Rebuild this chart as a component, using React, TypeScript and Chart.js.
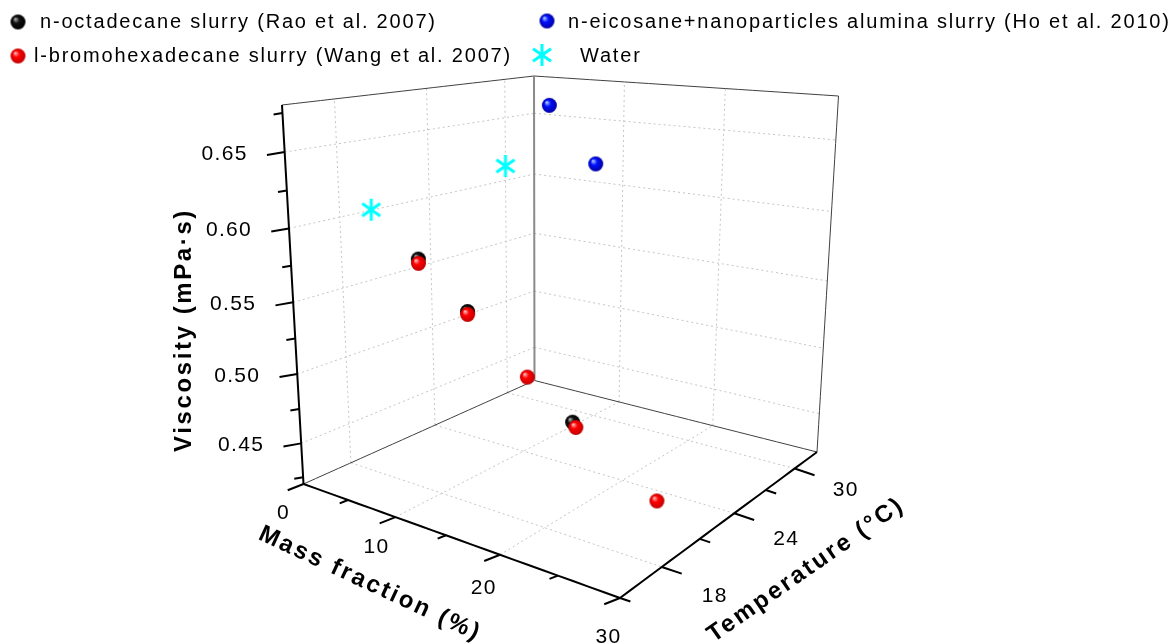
import React, { useEffect, useRef } from "react";
import { Chart, registerables } from "chart.js";

Chart.register(...registerables);

// ---------- data ----------
const massRange = [0, 30];
const tempRange = [15, 32.5];
const viscRange = [0.42, 0.68];

const massTicks = [0, 10, 20, 30];
const massMinorTicks = [5, 15, 25];
const tempTicks = [18, 24, 30];
const tempMinorTicks = [15, 21, 27];
const viscTicks = [0.45, 0.5, 0.55, 0.6, 0.65];
const viscMinorTicks = [0.425, 0.475, 0.525, 0.575, 0.625, 0.675];

const octaMass = [5.0, 10.0, 20.0];
const octaTemp = [20, 20, 20];
const octaVisc = [0.571, 0.541, 0.482];

const bromoMass = [5.0, 10.0, 15.8, 20.3, 27.4];
const bromoTemp = [20, 20, 20, 20, 20];
const bromoVisc = [0.568, 0.539, 0.505, 0.479, 0.445];

const eicoMass = [5, 10];
const eicoTemp = [30, 30];
const eicoVisc = [0.6626, 0.6216];

const waterMass = [0, 0];
const waterTemp = [20, 30];
const waterVisc = [0.6003, 0.6116];

const legendLabels = [
  "n-octadecane slurry (Rao et al. 2007)",
  "l-bromohexadecane slurry (Wang et al. 2007)",
  "n-eicosane+nanoparticles alumina slurry (Ho et al. 2010)",
  "Water",
];

// ---------- layout ----------
const W = 1176;
const H = 644;
const FONT = '"Liberation Sans", Arial, Helvetica, sans-serif';

// camera: screen position of the box corners (normalised u=mass, v=temp, w=visc)
const CAMERA_CORNERS: number[][] = [
  [0, 0, 0, 303.5, 484],
  [1, 0, 0, 620, 598],
  [1, 1, 0, 817, 452],
  [0, 1, 0, 534.5, 380.5],
  [0, 0, 1, 282, 105],
  [0, 1, 1, 534, 76],
  [1, 1, 1, 838.5, 96],
];

const NCX = 560, NCY = 340, NS = 300;

function solveLinear(M: number[][]): number[] {
  const n = M.length;
  for (let i = 0; i < n; i++) {
    let p = i;
    for (let r = i + 1; r < n; r++) if (Math.abs(M[r][i]) > Math.abs(M[p][i])) p = r;
    const tmp = M[i]; M[i] = M[p]; M[p] = tmp;
    for (let r = 0; r < n; r++) {
      if (r === i) continue;
      const f = M[r][i] / M[i][i];
      for (let c = i; c <= n; c++) M[r][c] -= f * M[i][c];
    }
  }
  return M.map((row, i) => row[n] / row[i]);
}

function buildCamera(): number[] {
  const n = 11;
  const M = Array.from({ length: n }, () => new Array(n + 1).fill(0));
  const addRow = (a: number[], b: number) => {
    for (let i = 0; i < n; i++) {
      for (let j = 0; j < n; j++) M[i][j] += a[i] * a[j];
      M[i][n] += a[i] * b;
    }
  };
  for (const [X, Y, Z, sx, sy] of CAMERA_CORNERS) {
    const x = (sx - NCX) / NS;
    const y = (sy - NCY) / NS;
    addRow([X, Y, Z, 1, 0, 0, 0, 0, -x * X, -x * Y, -x * Z], x);
    addRow([0, 0, 0, 0, X, Y, Z, 1, -y * X, -y * Y, -y * Z], y);
  }
  return solveLinear(M);
}

const CAM = buildCamera();

function pinhole(u: number, v: number, w: number): [number, number] {
  const P = CAM;
  const d = P[8] * u + P[9] * v + P[10] * w + 1;
  const x = (P[0] * u + P[1] * v + P[2] * w + P[3]) / d;
  const y = (P[4] * u + P[5] * v + P[6] * w + P[7]) / d;
  return [x * NS + NCX, y * NS + NCY];
}

// residual correction so the frame passes exactly through the corners
const RES: Record<string, [number, number]> = {};
for (const [X, Y, Z, sx, sy] of CAMERA_CORNERS) {
  const p = pinhole(X, Y, Z);
  RES[`${X}${Y}${Z}`] = [sx - p[0], sy - p[1]];
}
RES["101"] = [
  RES["100"][0] + RES["001"][0] - RES["000"][0],
  RES["100"][1] + RES["001"][1] - RES["000"][1],
];

function projN(u: number, v: number, w: number): [number, number] {
  const p = pinhole(u, v, w);
  let dx = 0, dy = 0;
  for (const a of [0, 1]) for (const b of [0, 1]) for (const c of [0, 1]) {
    const k = (a ? u : 1 - u) * (b ? v : 1 - v) * (c ? w : 1 - w);
    const r = RES[`${a}${b}${c}`];
    dx += k * r[0];
    dy += k * r[1];
  }
  return [p[0] + dx, p[1] + dy];
}

const nm = (m: number) => (m - massRange[0]) / (massRange[1] - massRange[0]);
const nt = (t: number) => (t - tempRange[0]) / (tempRange[1] - tempRange[0]);
const nv = (v: number) => (v - viscRange[0]) / (viscRange[1] - viscRange[0]);

function proj(m: number, t: number, v: number): [number, number] {
  return projN(nm(m), nt(t), nv(v));
}

function series(ms: number[], ts: number[], vs: number[]) {
  return ms.map((m, i) => {
    const [x, y] = proj(m, ts[i], vs[i]);
    return { x, y };
  });
}

// ---------- marker images ----------
function makeSphere(r: number, light: string, base: string, dark: string) {
  const c = document.createElement("canvas");
  const s = Math.ceil(r * 2 + 2);
  c.width = s; c.height = s;
  const g = c.getContext("2d")!;
  const cx = s / 2, cy = s / 2;
  const grad = g.createRadialGradient(cx - r * 0.38, cy - r * 0.42, r * 0.05, cx, cy, r);
  grad.addColorStop(0, light);
  grad.addColorStop(0.4, base);
  grad.addColorStop(1, dark);
  g.fillStyle = grad;
  g.beginPath();
  g.arc(cx, cy, r, 0, Math.PI * 2);
  g.fill();
  return c;
}

function makeAsterisk(size: number, color: string, lw: number) {
  const c = document.createElement("canvas");
  c.width = size; c.height = size;
  const g = c.getContext("2d")!;
  g.strokeStyle = color;
  g.lineWidth = lw;
  const r = size / 2 - 1;
  const cx = size / 2, cy = size / 2;
  for (const deg of [90, 35, 145]) {
    const a = (deg * Math.PI) / 180;
    g.beginPath();
    g.moveTo(cx - r * Math.cos(a), cy - r * Math.sin(a));
    g.lineTo(cx + r * Math.cos(a), cy + r * Math.sin(a));
    g.stroke();
  }
  return c;
}

function setSpacing(ctx: CanvasRenderingContext2D, px: number) {
  (ctx as any).letterSpacing = px + "px";
}

export default function App() {
  const ref = useRef<HTMLCanvasElement | null>(null);

  useEffect(() => {
    const canvas = ref.current!;
    const blackBall = makeSphere(7.5, "#b0b0b0", "#111111", "#000000");
    const redBall = makeSphere(7.5, "#ffc0c0", "#ff0000", "#c00000");
    const blueBall = makeSphere(7.5, "#b0d0ff", "#0010ff", "#0000a0");
    const star = makeAsterisk(24, "#00ffff", 3);

    const framePlugin = {
      id: "frame3d",
      beforeDatasetsDraw(chart: any) {
        const ctx: CanvasRenderingContext2D = chart.ctx;
        const sx = chart.scales.x, sy = chart.scales.y;
        const P = (u: number, v: number, w: number) => {
          const [x, y] = projN(u, v, w);
          return [sx.getPixelForValue(x), sy.getPixelForValue(y)];
        };
        const line = (a: number[], b: number[]) => {
          ctx.beginPath();
          ctx.moveTo(a[0], a[1]);
          ctx.lineTo(b[0], b[1]);
          ctx.stroke();
        };
        const curve = (f: (s: number) => number[]) => {
          ctx.beginPath();
          for (let i = 0; i <= 24; i++) {
            const p = f(i / 24);
            if (i === 0) ctx.moveTo(p[0], p[1]);
            else ctx.lineTo(p[0], p[1]);
          }
          ctx.stroke();
        };
        ctx.save();
        // grid
        ctx.strokeStyle = "#c4c4c4";
        ctx.lineWidth = 1;
        ctx.setLineDash([2, 3]);
        for (const v of viscTicks) {
          const w = nv(v);
          curve((s) => P(0, s, w));
          curve((s) => P(s, 1, w));
        }
        for (const t of tempTicks) {
          const v = nt(t);
          curve((s) => P(0, v, s));
          curve((s) => P(s, v, 0));
        }
        for (const m of massTicks) {
          const u = nm(m);
          if (u <= 0 || u >= 1) continue;
          curve((s) => P(u, 1, s));
          curve((s) => P(u, s, 0));
        }
        ctx.setLineDash([]);
        // box edges
        ctx.strokeStyle = "#404040";
        ctx.lineWidth = 1;
        curve((s) => P(0, s, 0));
        curve((s) => P(s, 1, 0));
        curve((s) => P(0, s, 1));
        curve((s) => P(s, 1, 1));
        curve((s) => P(1, 1, s));
        ctx.strokeStyle = "#8a8a8a";
        ctx.lineWidth = 2;
        curve((s) => P(0, 1, s));
        // axes
        ctx.strokeStyle = "#000000";
        ctx.lineWidth = 2;
        curve((s) => P(0, 0, s));
        curve((s) => P(s, 0, 0));
        curve((s) => P(1, s, 0));
        // ticks
        const tick = (p: number[], dx: number, dy: number, len: number) => {
          const l = Math.hypot(dx, dy);
          line(p, [p[0] + (dx / l) * len, p[1] + (dy / l) * len]);
        };
        ctx.lineWidth = 2;
        for (const v of viscTicks) tick(P(0, 0, nv(v)), -1, 0.17, 18);
        for (const v of viscMinorTicks) tick(P(0, 0, nv(v)), -1, 0.17, 9);
        for (const m of massTicks) tick(P(nm(m), 0, 0), -0.93, 0.37, 17);
        for (const m of massMinorTicks) tick(P(nm(m), 0, 0), -0.93, 0.37, 9);
        for (const t of tempTicks) tick(P(1, nt(t), 0), 0.95, 0.32, 21);
        for (const t of tempMinorTicks) tick(P(1, nt(t), 0), 0.95, 0.32, 11);

        // tick labels
        ctx.fillStyle = "#000000";
        ctx.font = `21px ${FONT}`;
        setSpacing(ctx, 1.3);
        ctx.textBaseline = "middle";
        ctx.textAlign = "right";
        for (const v of viscTicks) {
          const p = P(0, 0, nv(v));
          ctx.fillText(v.toFixed(2), p[0] - 37, p[1] + 2);
        }
        ctx.textAlign = "center";
        for (const m of massTicks) {
          const p = P(nm(m), 0, 0);
          const f = nm(m);
          ctx.fillText(String(m), p[0] - 20 + 8.5 * f * f, p[1] + 29 + 10 * f * f);
        }
        for (const t of tempTicks) {
          const p = P(1, nt(t), 0);
          const f = (t - tempTicks[0]) / (tempTicks[tempTicks.length - 1] - tempTicks[0]);
          ctx.fillText(String(t), p[0] + 53 - 2 * f, p[1] + 29 - 7 * f);
        }

        // axis titles
        ctx.font = `bold 24px ${FONT}`;
        setSpacing(ctx, 2.6);
        const title = (text: string, x: number, y: number, deg: number) => {
          ctx.save();
          ctx.translate(x, y);
          ctx.rotate((deg * Math.PI) / 180);
          ctx.textAlign = "center";
          ctx.textBaseline = "middle";
          ctx.fillText(text, 0, 0);
          ctx.restore();
        };
        title("Viscosity (mPa·s)", 184, 330, -90);
        title("Mass fraction (%)", 370, 584, 25);
        title("Temperature (°C)", 806, 570, -35);

        // legend
        ctx.font = `20px ${FONT}`;
        setSpacing(ctx, 1.8);
        ctx.textAlign = "left";
        ctx.textBaseline = "middle";
        const drawImg = (img: HTMLCanvasElement, x: number, y: number) =>
          ctx.drawImage(img, x - img.width / 2, y - img.height / 2);
        drawImg(blackBall, 18, 22);
        ctx.fillText(legendLabels[0], 40, 22);
        drawImg(redBall, 18, 56);
        ctx.fillText(legendLabels[1], 34, 56);
        drawImg(blueBall, 547, 21);
        ctx.fillText(legendLabels[2], 568, 22);
        drawImg(star, 542, 55);
        ctx.fillText(legendLabels[3], 580, 56);
        ctx.restore();
      },
    };

    const chart = new Chart(canvas, {
      type: "scatter",
      data: {
        datasets: [
          { label: legendLabels[3], data: series(waterMass, waterTemp, waterVisc), pointStyle: star as any, pointRadius: 12, clip: false } as any,
          { label: legendLabels[2], data: series(eicoMass, eicoTemp, eicoVisc), pointStyle: blueBall as any, pointRadius: 8, clip: false } as any,
          { label: legendLabels[1], data: series(bromoMass, bromoTemp, bromoVisc), pointStyle: redBall as any, pointRadius: 8, clip: false } as any,
          { label: legendLabels[0], data: series(octaMass, octaTemp, octaVisc), pointStyle: blackBall as any, pointRadius: 8, clip: false } as any,
        ],
      },
      options: {
        animation: false,
        responsive: false,
        events: [],
        layout: { padding: 0, autoPadding: false },
        scales: {
          x: { type: "linear", min: 0, max: W, display: false },
          y: { type: "linear", min: 0, max: H, reverse: true, display: false },
        },
        plugins: { legend: { display: false }, tooltip: { enabled: false } },
      },
      plugins: [framePlugin],
    });
    return () => chart.destroy();
  }, []);

  return (
    <div style={{ position: "fixed", left: 0, top: 0, width: W, height: H, background: "#ffffff" }}>
      <canvas ref={ref} width={W} height={H} style={{ display: "block" }} />
    </div>
  );
}
